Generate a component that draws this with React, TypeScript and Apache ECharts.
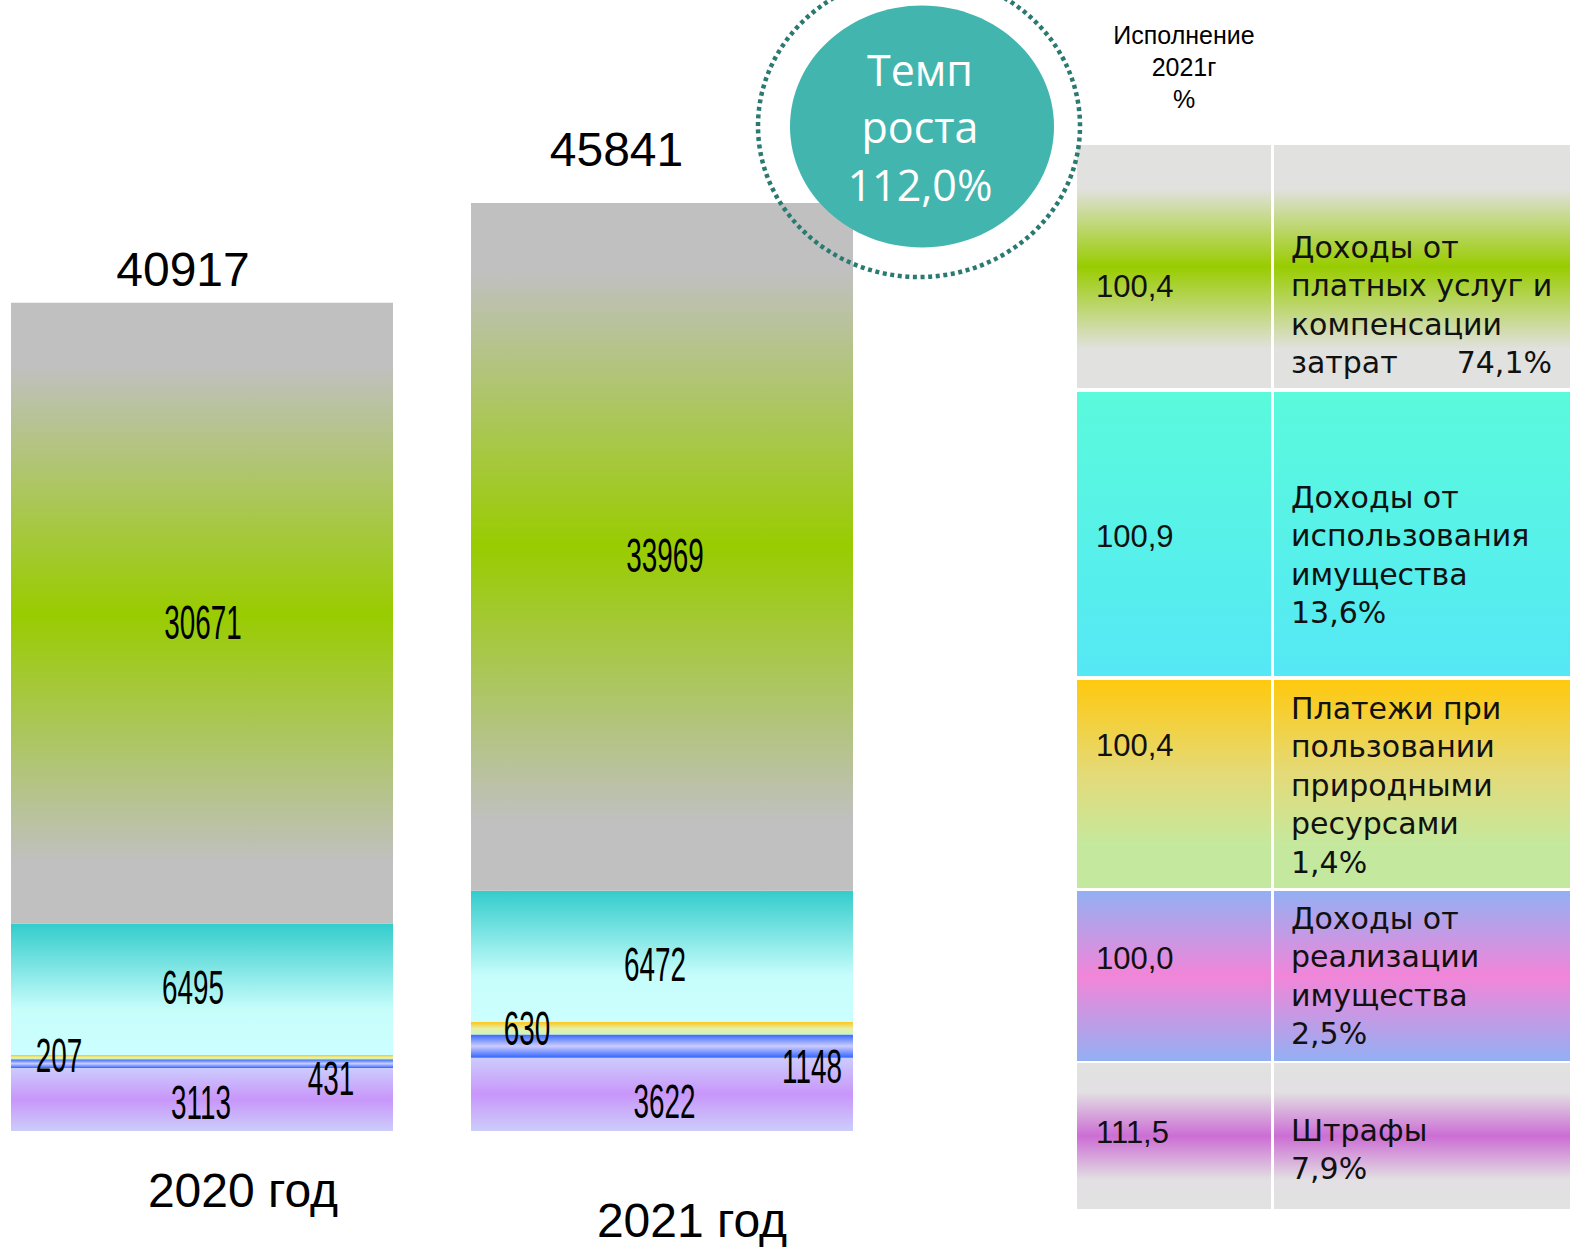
import React, { useEffect, useRef } from "react";
import * as echarts from "echarts";

// ---------- data ----------
const categories = ["2020 год", "2021 год"];
const seriesNames = [
  "Штрафы",
  "Доходы от реализации имущества",
  "Платежи при пользовании природными ресурсами",
  "Доходы от использования имущества",
  "Доходы от платных услуг и компенсации затрат",
];
const fines = [3113, 3622];
const propertySale = [431, 1148];
const naturalResources = [207, 630];
const propertyUse = [6495, 6472];
const paidServices = [30671, 33969];
const totals = [40917, 45841];
const growthRate = "112,0%";

const tableNames = [
  "Доходы от\nплатных услуг и\nкомпенсации\nзатрат",
  "Доходы от\nиспользования\nимущества\n13,6%",
  "Платежи при\nпользовании\nприродными\nресурсами\n1,4%",
  "Доходы от\nреализации\nимущества\n2,5%",
  "Штрафы\n7,9%",
];
const firstRowShare = "74,1%";
const execution2021 = ["100,4", "100,9", "100,4", "100,0", "111,5"];

// ---------- styles / layout ----------
const seriesValues = [fines, propertySale, naturalResources, propertyUse, paidServices];
const seriesStops: [number, string][][] = [
  [[0, "#ccccfd"], [0.5, "#c896fa"], [1, "#cccdfb"]],
  [[0, "#3366ff"], [0.5, "#ccccff"], [1, "#3366ff"]],
  [[0, "#ffc414"], [0.55, "#e6f0a8"], [1, "#ccf5c0"]],
  [[0, "#33cccc"], [0.65, "#c6fdfb"], [1, "#ccffff"]],
  [[0, "#c0c0c0"], [0.1, "#c0c0c0"], [0.5, "#99cc00"], [0.9, "#c0c0c0"], [1, "#c0c0c0"]],
];
// label offsets [dx, dy] per series per category
const labelOffsets = [
  [[-1, 2.5], [2.5, 7]],
  [[129, 14], [150, 20]],
  [[-143, -2], [-135, 0]],
  [[-9, -2], [-7, 8]],
  [[1, 9], [3, 8]],
];
const totalOffsets = [[-19, -32.7], [-45.5, -53.5]];

const rowBounds = [[145, 388], [392, 676], [680, 888], [891, 1061], [1063, 1209]];
const rowFirstLine = [247, 497, 708, 918, 1130];
const valueCenters = [286, 536, 745, 958.5, 1132.5];
const rowStops: [number, string][][] = [
  [[0, "#e1e1df"], [0.18, "#e1e1df"], [0.5, "#99cc00"], [0.84, "#e1e1df"], [1, "#e1e1df"]],
  [[0, "#5afadc"], [1, "#55e8f5"]],
  [[0, "#ffc90e"], [0.45, "#e4da78"], [0.8, "#c4e99e"], [1, "#c4e99e"]],
  [[0, "#93b0f3"], [0.5, "#f285d8"], [1, "#93b0f3"]],
  [[0, "#e2e2e2"], [0.2, "#e2e0e2"], [0.5, "#cc6dd4"], [0.8, "#e2e0e2"], [1, "#e2e2e2"]],
];

const grad = (stops: [number, string][]) => ({
  type: "linear",
  x: 0,
  y: 0,
  x2: 0,
  y2: 1,
  colorStops: stops.map(([offset, color]) => ({ offset, color })),
});

function buildOption() {
  // segment label items
  const labelItems: { value: [number, number]; text: string; dx: number; dy: number }[] = [];
  const cum = categories.map(() => 0);
  seriesValues.forEach((vals, s) => {
    vals.forEach((v, c) => {
      labelItems.push({
        value: [c, cum[c] + v / 2],
        text: String(v),
        dx: labelOffsets[s][c][0],
        dy: labelOffsets[s][c][1],
      });
      cum[c] += v;
    });
  });

  const bars = seriesValues.map((vals, s) => ({
    type: "bar",
    name: seriesNames[s],
    stack: "total",
    data: vals,
    barWidth: 382,
    clip: false,
    silent: true,
    itemStyle: { color: new echarts.graphic.LinearGradient(0, 0, 0, 1, seriesStops[s].map(([offset, color]) => ({ offset, color }))) },
  }));

  const segLabels = {
    type: "custom",
    silent: true,
    clip: false,
    z: 10,
    data: labelItems.map((i) => i.value),
    renderItem: (params: any, api: any) => {
      const it = labelItems[params.dataIndex];
      const pt = api.coord([api.value(0), api.value(1)]);
      return {
        type: "text",
        x: pt[0] + it.dx,
        y: pt[1] + it.dy,
        scaleX: 0.58,
        style: {
          text: it.text,
          fontSize: 48,
          fontFamily: "Liberation Sans",
          fill: "#000",
          align: "center",
          verticalAlign: "middle",
          textAlign: "center",
          textVerticalAlign: "middle",
        },
      };
    },
  };

  const totalLabels = {
    type: "custom",
    silent: true,
    clip: false,
    z: 10,
    data: totals.map((t, i) => [i, t]),
    renderItem: (params: any, api: any) => {
      const i = params.dataIndex;
      const pt = api.coord([api.value(0), api.value(1)]);
      return {
        type: "text",
        x: pt[0] + totalOffsets[i][0],
        y: pt[1] + totalOffsets[i][1],
        style: {
          text: String(totals[i]),
          fontSize: 48,
          fontFamily: "Liberation Sans",
          fill: "#000",
          align: "center",
          verticalAlign: "middle",
          textAlign: "center",
          textVerticalAlign: "middle",
        },
      };
    },
  };

  const tx = (o: any) => ({
    ...o,
    style: {
      ...o.style,
      textAlign: o.style.align,
      textVerticalAlign: o.style.verticalAlign,
    },
  });

  const graphic: any[] = [];
  // growth-rate circle
  graphic.push({
    type: "ellipse",
    z: 100,
    silent: true,
    shape: { cx: 922, cy: 126.5, rx: 132, ry: 121 },
    style: { fill: "#42b6ae" },
  });
  graphic.push({
    type: "ellipse",
    z: 101,
    silent: true,
    shape: { cx: 919, cy: 126, rx: 161, ry: 151 },
    style: { fill: "none", stroke: "#2b7a72", lineWidth: 4.5, lineDash: [4, 3.6] },
  });
  graphic.push(
    tx({
      type: "text",
      z: 102,
      silent: true,
      x: 920,
      y: 126.5,
      style: {
        text: "Темп\nроста\n" + growthRate,
        fontSize: 43,
        fontFamily: "Open Sans",
        lineHeight: 57.5,
        fill: "#ffffff",
        align: "center",
        verticalAlign: "middle",
      },
    })
  );
  // table header
  graphic.push(
    tx({
      type: "text",
      z: 100,
      silent: true,
      x: 1184,
      y: 67,
      style: {
        text: "Исполнение\n2021г\n%",
        fontSize: 25,
        fontFamily: "Liberation Sans",
        lineHeight: 32,
        fill: "#000",
        align: "center",
        verticalAlign: "middle",
      },
    })
  );
  // table rows
  rowBounds.forEach(([y0, y1], r) => {
    graphic.push({
      type: "rect",
      z: 100,
      silent: true,
      shape: { x: 1077, y: y0, width: 194, height: y1 - y0 },
      style: { fill: grad(rowStops[r]) },
    });
    graphic.push({
      type: "rect",
      z: 100,
      silent: true,
      shape: { x: 1274, y: y0, width: 296, height: y1 - y0 },
      style: { fill: grad(rowStops[r]) },
    });
    graphic.push(
      tx({
        type: "text",
        z: 101,
        silent: true,
        x: 1096,
        y: valueCenters[r],
        style: {
          text: execution2021[r],
          fontSize: 31,
          fontFamily: "Liberation Sans",
          fill: "#111",
          align: "left",
          verticalAlign: "middle",
        },
      })
    );
    graphic.push(
      tx({
        type: "text",
        z: 101,
        silent: true,
        x: 1291,
        y: rowFirstLine[r] - 19.25,
        style: {
          text: tableNames[r],
          fontSize: 30,
          fontFamily: "DejaVu Sans",
          lineHeight: 38.5,
          fill: "#111",
          align: "left",
          verticalAlign: "top",
        },
      })
    );
  });
  graphic.push(
    tx({
      type: "text",
      z: 101,
      silent: true,
      x: 1552,
      y: rowFirstLine[0] + 3 * 38.5,
      style: {
        text: firstRowShare,
        fontSize: 30,
        fontFamily: "DejaVu Sans",
        fill: "#111",
        align: "right",
        verticalAlign: "middle",
      },
    })
  );

  return {
    animation: false,
    backgroundColor: "#ffffff",
    grid: { left: 202, width: 460, top: 118.8, height: 1012.2 },
    xAxis: {
      type: "category",
      data: categories,
      boundaryGap: false,
      axisLine: { show: false },
      axisTick: { show: false },
      splitLine: { show: false },
      axisLabel: {
        margin: 35,
        interval: 0,
        fontSize: 48,
        fontFamily: "Liberation Sans",
        color: "#000",
        formatter: (v: string, i: number) => (i === 0 ? `{a|${v}}` : `{b|${v}}`),
        rich: {
          a: { fontSize: 48, fontFamily: "Liberation Sans", color: "#000", lineHeight: 48, padding: [0, 0, 0, 82] },
          b: { fontSize: 48, fontFamily: "Liberation Sans", color: "#000", lineHeight: 48, padding: [60, 0, 0, 60] },
        },
      },
    },
    yAxis: { type: "value", min: 0, max: 50000, show: false },
    series: [...bars, segLabels, totalLabels],
    graphic,
  };
}

export default function App() {
  const ref = useRef<HTMLDivElement>(null);
  useEffect(() => {
    const chart = echarts.init(ref.current as HTMLDivElement, null, { renderer: "svg" });
    chart.setOption(buildOption() as any);
    return () => chart.dispose();
  }, []);
  return (
    <div
      ref={ref}
      style={{ position: "absolute", left: 0, top: 0, width: 1570, height: 1247 }}
    />
  );
}
